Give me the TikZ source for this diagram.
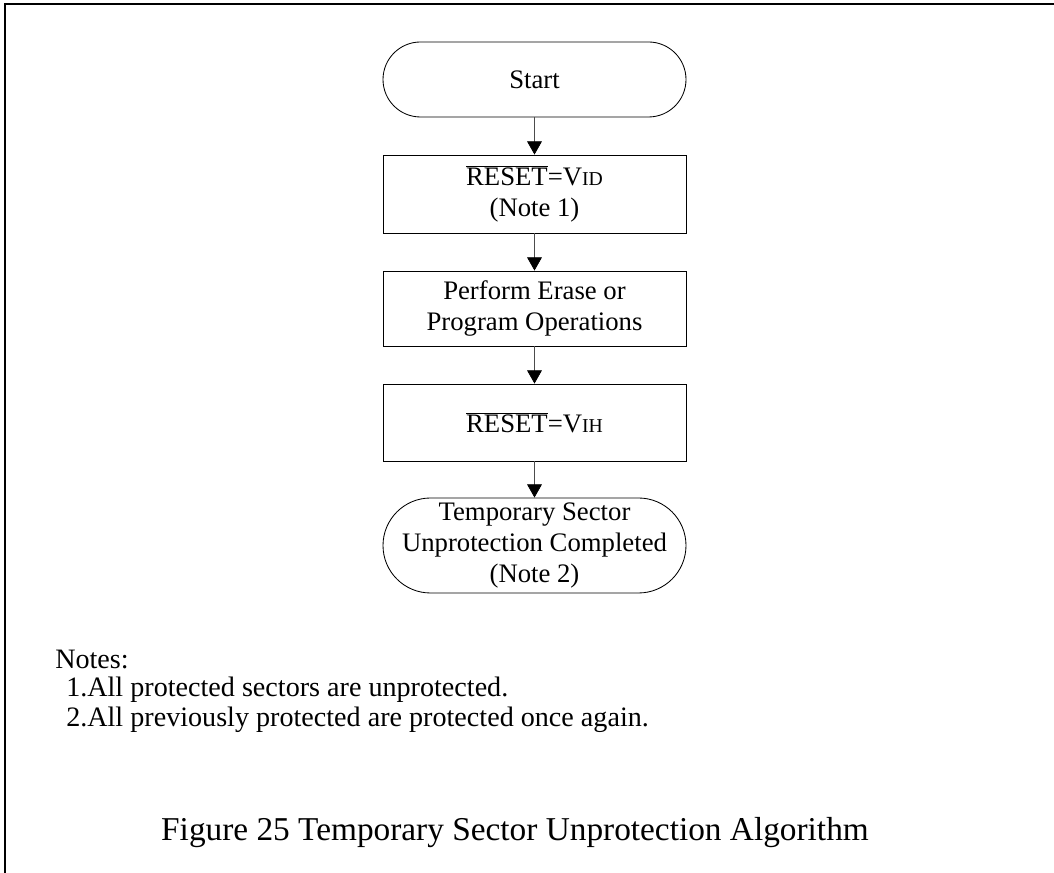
\documentclass[tikz,border=0pt]{standalone}
\usepackage{fontspec}
\setmainfont{Liberation Serif}
\usetikzlibrary{arrows.meta}
\tikzset{
  box/.style={draw, line width=0.6pt, minimum width=303*0.025cm, align=center,
    font=\fontsize{19}{22}\selectfont, inner sep=0pt},
  term/.style={box, rounded corners=#1*0.0125cm, minimum height=#1*0.025cm},
  flow/.style={draw=black!70, line width=0.5pt, -{Triangle[length=0.33cm, width=0.37cm, color=black, fill=black]}},
}
\newcommand{\rst}{$\overline{\mbox{RESET}}$=V}
\newcommand{\sub}[1]{{\fontsize{14}{14}\selectfont #1}}
\begin{document}
\begin{tikzpicture}[x=0.025cm, y=0.025cm]
	\useasboundingbox (0,0) rectangle (1054,873);
	% frame
	\draw[line width=1.4pt] (5,0) -- (5,869) -- (1054,869);
	% flow chart
	\node[term=75] (start) at (534.5,793.5) {Start};
	\node[box, minimum height=78*0.025cm] (vid) at (534.5,679) {\rst\sub{ID}\\(Note 1)};
	\node[box, minimum height=75*0.025cm] (perform) at (534.5,564.5) {Perform Erase or\\Program Operations};
	\node[box, minimum height=77*0.025cm] (vih) at (534.5,450.5) {\rst\sub{IH}};
	\node[term=95] (done) at (534.5,327.5) {Temporary Sector\\Unprotection Completed\\(Note 2)};
	\foreach \a/\b in {start/vid, vid/perform, perform/vih, vih/done}{
		\draw[flow] (\a) -- (\b);
	}
	% notes
	\begin{scope}[font=\fontsize{20}{24}\selectfont]
		\node[anchor=west, inner sep=0pt] (notes) at (55,213) {Notes:};
		\node[anchor=west, inner sep=0pt] (note1) at (66,183) {1.All protected sectors are unprotected.};
		\node[anchor=west, inner sep=0pt] (note2) at (66,153) {2.All previously protected are protected once again.};
	\end{scope}
	\node[font=\fontsize{23.7}{28}\selectfont] (caption) at (515,40) {Figure 25 Temporary Sector Unprotection Algorithm};
\end{tikzpicture}
\end{document}
